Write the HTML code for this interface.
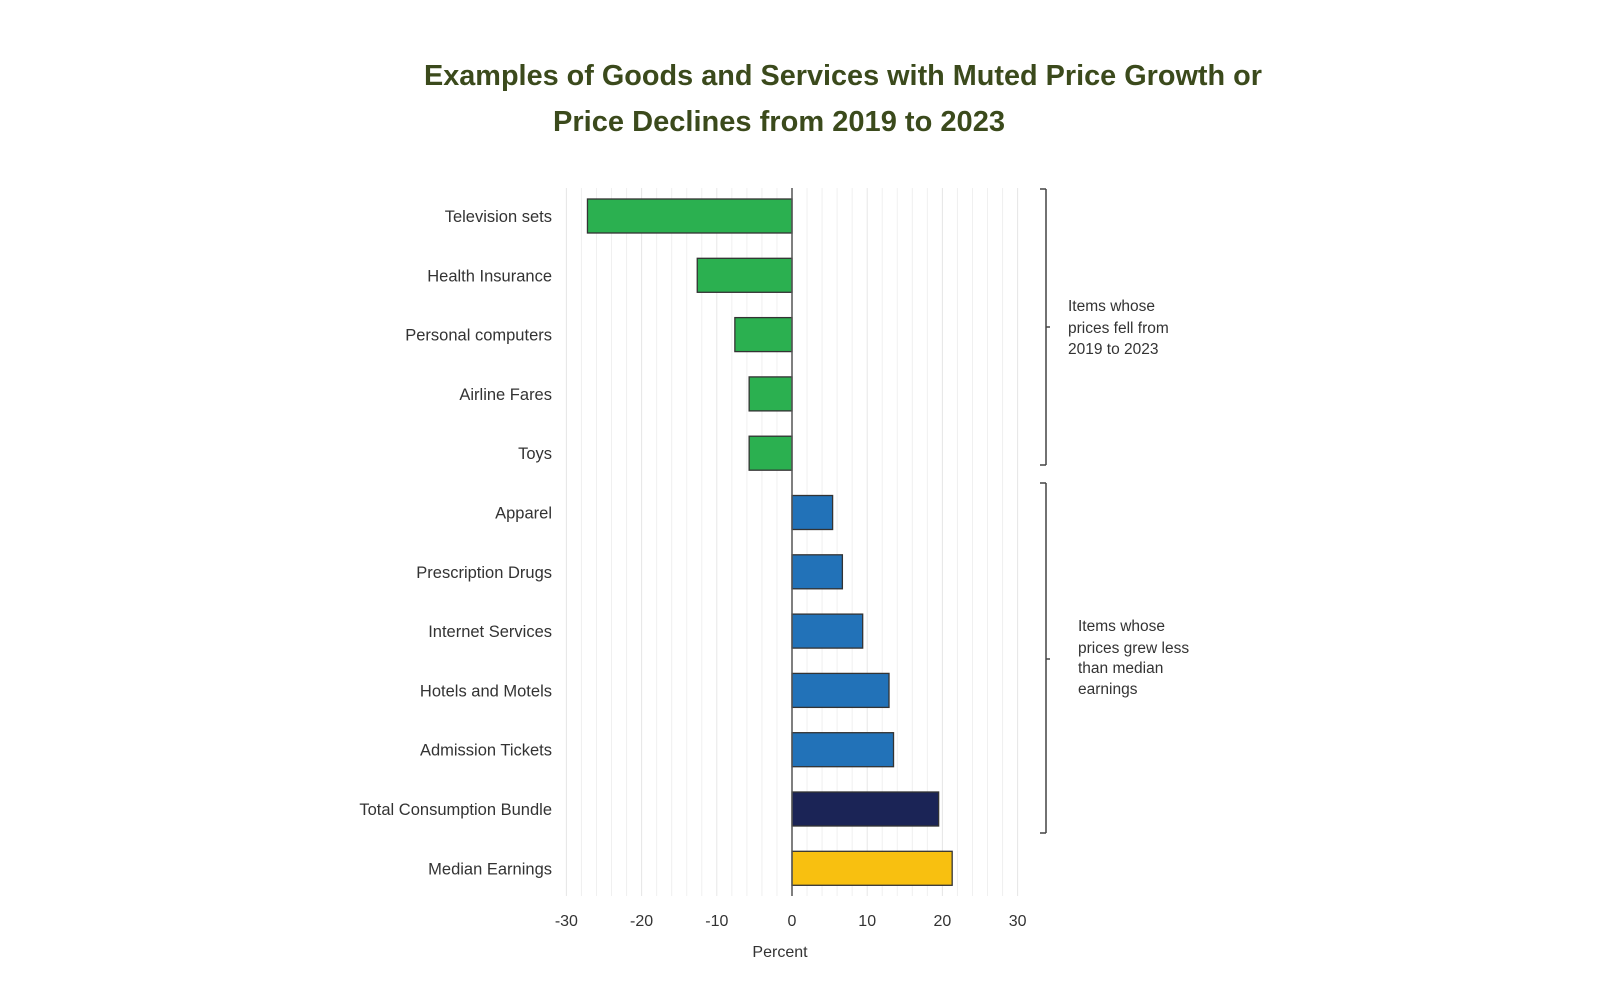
<!DOCTYPE html>
<html><head><meta charset="utf-8"><style>
body{margin:0;background:#fff;width:1600px;height:1000px;overflow:hidden}
svg{display:block}
</style></head><body>
<svg id="chart" width="1600" height="1000" font-family="'Liberation Sans', sans-serif">
<text x="843" y="85" text-anchor="middle" font-size="29" font-weight="bold" fill="#3b4a1c" textLength="838" lengthAdjust="spacingAndGlyphs">Examples of Goods and Services with Muted Price Growth or</text>
<text x="779" y="131" text-anchor="middle" font-size="29" font-weight="bold" fill="#3b4a1c" textLength="452" lengthAdjust="spacingAndGlyphs">Price Declines from 2019 to 2023</text>
<g id="grid"></g><g id="bars"></g><g id="labels"></g><g id="ticks"></g>
<line x1="1046" y1="189" x2="1046" y2="465" stroke="#444" stroke-width="1.5"/>
<line x1="1040" y1="189" x2="1046" y2="189" stroke="#444" stroke-width="1.5"/>
<line x1="1040" y1="465" x2="1046" y2="465" stroke="#444" stroke-width="1.5"/>
<line x1="1046" y1="327" x2="1050" y2="327" stroke="#444" stroke-width="1.5"/>
<line x1="1046" y1="483" x2="1046" y2="833" stroke="#444" stroke-width="1.5"/>
<line x1="1040" y1="483" x2="1046" y2="483" stroke="#444" stroke-width="1.5"/>
<line x1="1040" y1="833" x2="1046" y2="833" stroke="#444" stroke-width="1.5"/>
<line x1="1046" y1="659" x2="1050" y2="659" stroke="#444" stroke-width="1.5"/>
<g font-size="15.5" fill="#333">
<text x="1068" y="311">Items whose</text><text x="1068" y="333">prices fell from</text><text x="1068" y="354">2019 to 2023</text></g>
<g font-size="15.5" fill="#333">
<text x="1078" y="631">Items whose</text><text x="1078" y="653">prices grew less</text><text x="1078" y="673">than median</text><text x="1078" y="694">earnings</text></g>
<text x="780" y="957" text-anchor="middle" font-size="16" fill="#333">Percent</text>
</svg>
<script>
const categories=["Television sets","Health Insurance","Personal computers","Airline Fares","Toys","Apparel","Prescription Drugs","Internet Services","Hotels and Motels","Admission Tickets","Total Consumption Bundle","Median Earnings"];
const values=[-27.2,-12.6,-7.6,-5.7,-5.7,5.4,6.7,9.4,12.9,13.5,19.5,21.3];
const colors=["#2bb050","#2bb050","#2bb050","#2bb050","#2bb050","#2272b8","#2272b8","#2272b8","#2272b8","#2272b8","#1b2456","#f8c010"];
const tickValues=[-30,-20,-10,0,10,20,30];
const NS="http://www.w3.org/2000/svg";
function xs(v){return 792+v*7.52;}
function ys(i){return 199+i*59.3;}
function mk(t,a,p){const e=document.createElementNS(NS,t);for(const k in a)e.setAttribute(k,a[k]);p.appendChild(e);return e;}
const grid=document.getElementById('grid');
for(let v=-30;v<=30;v+=2){if(v===0)continue;
const g=mk('line',{x1:xs(v),x2:xs(v),y1:188,y2:896,stroke:(v%10===0)?'#e6e6e6':'#f0f0f0','stroke-width':1},grid);

}
const bars=document.getElementById('bars'),labels=document.getElementById('labels');
categories.forEach((c,i)=>{const v=values[i];const x0=Math.min(xs(0),xs(v));
const r=mk('rect',{x:x0,y:ys(i),width:Math.abs(xs(v)-xs(0)),height:34,fill:colors[i],stroke:'#333','stroke-width':1.3},bars);


const t=mk('text',{x:552,y:ys(i)+23,'text-anchor':'end','font-size':16.5,fill:'#333'},labels);t.textContent=c;

});
const ax=mk('line',{x1:xs(0),x2:xs(0),y1:188,y2:896,stroke:'#555','stroke-width':1.5},bars);


const ticks=document.getElementById('ticks');
tickValues.forEach(v=>{const t=mk('text',{x:xs(v),y:926,'text-anchor':'middle','font-size':16,fill:'#333'},ticks);t.textContent=v;

});
</script>
</body></html>
